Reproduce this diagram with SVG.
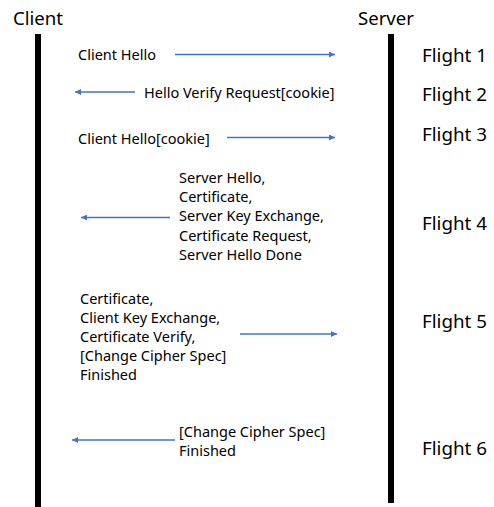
<svg xmlns="http://www.w3.org/2000/svg" width="494" height="507" viewBox="0 0 494 507">
<defs>
<style>
.lbl{font-family:"Noto Sans","Open Sans","Liberation Sans",sans-serif;fill:#000}
.h{font-size:18.6px}
.f{font-size:18.8px}
.m{font-size:14.5px}
.life{stroke:#000;stroke-width:6;fill:none}
.msg{stroke:#4472C4;stroke-width:1.5;fill:none;marker-end:url(#ah)}
</style>
<marker id="ah" viewBox="0 0 10 10" refX="10" refY="5" markerWidth="6" markerHeight="6" markerUnits="userSpaceOnUse" orient="auto">
<path d="M0,0 L10,5 L0,10 z" fill="#4472C4"/>
</marker>
</defs>
<rect width="494" height="507" fill="#fff"/>
<g id="client">
<text class="lbl h" x="13" y="25">Client</text>
<line class="life" x1="38" y1="34" x2="38" y2="507"/>
</g>
<g id="server">
<text class="lbl h" x="358" y="25">Server</text>
<line class="life" x1="391" y1="34" x2="391" y2="503"/>
</g>
<g id="flights">
<text class="lbl f" x="422" y="62">Flight 1</text>
<text class="lbl f" x="422" y="101">Flight 2</text>
<text class="lbl f" x="422" y="141">Flight 3</text>
<text class="lbl f" x="422" y="230">Flight 4</text>
<text class="lbl f" x="422" y="328">Flight 5</text>
<text class="lbl f" x="422" y="455">Flight 6</text>
</g>
<g id="labels">
<text class="lbl m" x="78" y="60">Client Hello</text>
<text class="lbl m" x="144" y="98">Hello Verify Request[cookie]</text>
<text class="lbl m" x="78" y="144">Client Hello[cookie]</text>
<text class="lbl m" x="179" y="183">Server Hello,</text>
<text class="lbl m" x="179" y="202">Certificate,</text>
<text class="lbl m" x="179" y="221">Server Key Exchange,</text>
<text class="lbl m" x="179" y="241">Certificate Request,</text>
<text class="lbl m" x="179" y="260">Server Hello Done</text>
<text class="lbl m" x="80" y="304">Certificate,</text>
<text class="lbl m" x="80" y="323">Client Key Exchange,</text>
<text class="lbl m" x="80" y="342">Certificate Verify,</text>
<text class="lbl m" x="80" y="361">[Change Cipher Spec]</text>
<text class="lbl m" x="80" y="380">Finished</text>
<text class="lbl m" x="179" y="437">[Change Cipher Spec]</text>
<text class="lbl m" x="179" y="456">Finished</text>
</g>
<g id="connectors">
<line class="msg" x1="175" y1="54.5" x2="335" y2="54.5"/>
<line class="msg" x1="135" y1="92" x2="75" y2="92"/>
<line class="msg" x1="227" y1="137.5" x2="335" y2="137.5"/>
<line class="msg" x1="170" y1="217.5" x2="81" y2="217.5"/>
<line class="msg" x1="240" y1="334" x2="337" y2="334"/>
<line class="msg" x1="175" y1="440" x2="72" y2="440"/>
</g>
</svg>
